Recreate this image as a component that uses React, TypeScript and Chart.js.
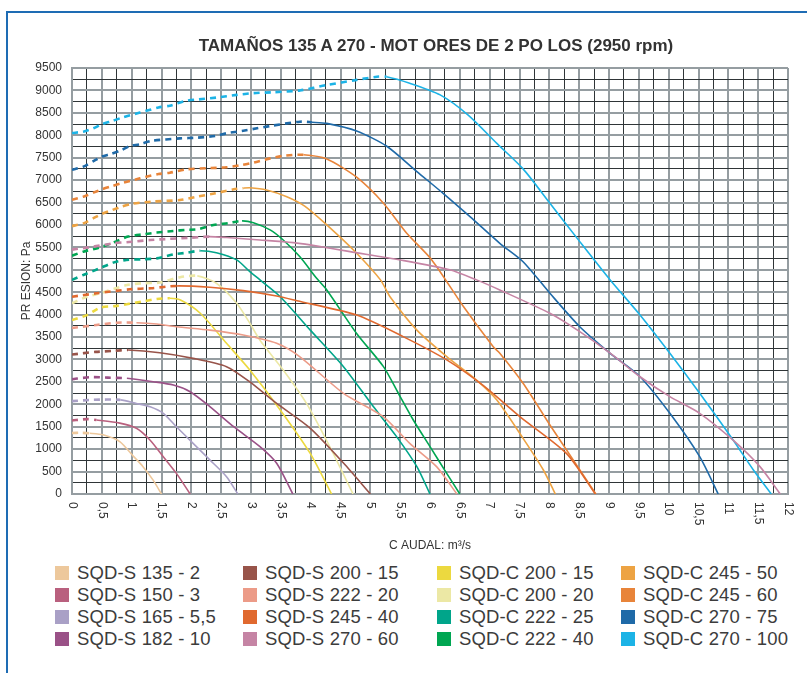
import React, { useEffect, useRef } from 'react';
import { Chart, registerables } from 'chart.js';

Chart.register(...registerables);

const FONT = "'Liberation Sans', Arial, Helvetica, sans-serif";

const TITLE = 'TAMAÑOS 135 A 270 - MOT ORES DE 2 PO LOS (2950 rpm)';
const X_TITLE = 'C AUDAL: m³/s';
const Y_TITLE = 'PR ESION: Pa';

const X_TICKS = [0, 0.5, 1, 1.5, 2, 2.5, 3, 3.5, 4, 4.5, 5, 5.5, 6, 6.5, 7, 7.5, 8, 8.5, 9, 9.5, 10, 10.5, 11, 11.5, 12];
const Y_TICKS = [0, 500, 1000, 1500, 2000, 2500, 3000, 3500, 4000, 4500, 5000, 5500, 6000, 6500, 7000, 7500, 8000, 8500, 9000, 9500];

const SERIES_NAMES = [
  'SQD-S 135 - 2', 'SQD-S 150 - 3', 'SQD-S 165 - 5,5', 'SQD-S 182 - 10',
  'SQD-S 200 - 15', 'SQD-S 222 - 20', 'SQD-S 245 - 40', 'SQD-S 270 - 60',
  'SQD-C 200 - 15', 'SQD-C 200 - 20', 'SQD-C 222 - 25', 'SQD-C 222 - 40',
  'SQD-C 245 - 50', 'SQD-C 245 - 60', 'SQD-C 270 - 75', 'SQD-C 270 - 100',
];

const SERIES_COLORS = [
  '#edc89c', '#b9607e', '#a9a0c6', '#9a5187',
  '#98544a', '#ec9b88', '#e0692f', '#c584a4',
  '#ecd93f', '#ece8a5', '#00a58a', '#00a652',
  '#eda343', '#e8843a', '#1f6aa8', '#1cb3e6',
];

// flow (m³/s) up to which each curve is drawn dashed
const DASH_END = [0.3, 0.41, 0.81, 0.92, 0.94, 1.08, 1.75, 2.3, 1.64, 2.1, 2.15, 2.85, 2.87, 3.88, 4.02, 5.27];

const SQD_S_135_2 = [[0, 1360], [0.15, 1365], [0.3, 1355], [0.52, 1320], [0.8, 1170], [1.03, 840], [1.19, 610], [1.36, 310], [1.5, 0]];
const SQD_S_150_3 = [[0, 1640], [0.25, 1670], [0.41, 1650], [0.8, 1580], [1.08, 1465], [1.31, 1200], [1.53, 830], [1.75, 460], [1.98, 0]];
const SQD_S_165_55 = [[0, 2070], [0.36, 2100], [0.81, 2100], [1.08, 2020], [1.31, 1945], [1.53, 1800], [1.75, 1500], [2.03, 1130], [2.31, 760], [2.59, 385], [2.78, 0]];
const SQD_S_182_10 = [[0, 2560], [0.3, 2605], [0.6, 2595], [0.92, 2580], [1.36, 2505], [1.7, 2430], [1.98, 2280], [2.31, 1950], [2.71, 1500], [3.15, 1055], [3.43, 685], [3.7, 0]];
const SQD_S_200_15 = [[0, 3110], [0.4, 3170], [0.69, 3190], [0.94, 3210], [1.47, 3150], [2.03, 3025], [2.59, 2840], [2.98, 2500], [3.43, 2020], [3.99, 1470], [4.55, 690], [5.0, 0]];
const SQD_S_222_20 = [[0, 3700], [0.41, 3770], [0.75, 3820], [1.08, 3820], [1.42, 3790], [1.75, 3730], [2.31, 3655], [2.87, 3545], [3.43, 3360], [3.82, 3060], [4.55, 2245], [5.22, 1720], [5.66, 1130], [6.11, 610], [6.45, 0]];
const SQD_S_245_40 = [[0, 4400], [0.41, 4475], [0.97, 4565], [1.33, 4590], [1.75, 4640], [2.31, 4610], [2.87, 4535], [3.43, 4415], [3.77, 4310], [4.77, 3990], [5.55, 3510], [6.28, 2990], [6.89, 2420], [7.51, 1720], [8.29, 900], [8.77, 0]];
const SQD_S_270_60 = [[0, 5450], [0.36, 5515], [0.69, 5590], [1.0, 5625], [1.31, 5665], [1.64, 5690], [1.98, 5715], [2.3, 5740], [2.59, 5720], [3.15, 5665], [3.71, 5605], [3.99, 5555], [4.66, 5405], [5.5, 5220], [6.33, 5000], [6.78, 4775], [7.17, 4550], [8.01, 4030], [8.51, 3620], [9.02, 3140], [9.52, 2615], [10.02, 2170], [10.52, 1800], [11.08, 1200], [11.53, 610], [11.87, 0]];
const SQD_C_200_15 = [[0, 3880], [0.25, 3990], [0.47, 4155], [0.75, 4195], [1.17, 4290], [1.42, 4350], [1.64, 4365], [1.81, 4330], [2.15, 4030], [2.59, 3360], [2.98, 2765], [3.49, 1875], [3.99, 910], [4.35, 0]];
const SQD_C_200_20 = [[0, 4255], [0.25, 4400], [0.47, 4475], [0.92, 4660], [1.19, 4700], [1.47, 4715], [1.81, 4835], [2.1, 4865], [2.42, 4700], [2.76, 4255], [2.98, 3810], [3.15, 3430], [3.54, 2765], [3.93, 2020], [4.32, 1055], [4.71, 0]];
const SQD_C_222_25 = [[0, 4775], [0.19, 4885], [0.47, 5035], [0.69, 5160], [0.91, 5220], [1.19, 5235], [1.42, 5255], [1.7, 5345], [1.92, 5380], [2.15, 5425], [2.42, 5380], [2.76, 5220], [2.98, 4960], [3.15, 4775], [3.49, 4400], [3.99, 3660], [4.55, 2840], [5.05, 1950], [5.44, 1280], [5.78, 610], [6.0, 0]];
const SQD_C_222_40 = [[0, 5315], [0.19, 5405], [0.47, 5500], [0.69, 5605], [0.94, 5740], [1.19, 5790], [1.42, 5830], [1.7, 5865], [1.92, 5890], [2.12, 5905], [2.37, 6000], [2.62, 6040], [2.85, 6090], [3.04, 6050], [3.32, 5890], [3.54, 5665], [3.82, 5290], [4.1, 4810], [4.27, 4550], [4.77, 3580], [5.22, 2840], [5.47, 2245], [5.72, 1650], [6.0, 1055], [6.28, 460], [6.5, 0]];
const SQD_C_245_50 = [[0, 5975], [0.19, 6035], [0.36, 6150], [0.5, 6245], [0.68, 6335], [0.83, 6410], [1.0, 6470], [1.33, 6520], [1.81, 6555], [2.09, 6630], [2.4, 6705], [2.71, 6795], [2.87, 6820], [2.98, 6830], [3.26, 6780], [3.6, 6630], [3.9, 6420], [4.27, 6000], [4.77, 5370], [5.17, 4775], [5.33, 4400], [5.78, 3655], [6.28, 3065], [6.78, 2540], [7.12, 2095], [7.56, 1240], [7.9, 535], [8.1, 0]];
const SQD_C_245_60 = [[0, 6560], [0.19, 6630], [0.36, 6720], [0.5, 6795], [0.68, 6870], [0.83, 6930], [1.14, 7040], [1.45, 7135], [1.64, 7165], [1.92, 7240], [2.26, 7265], [2.59, 7285], [2.84, 7335], [3.04, 7390], [3.32, 7485], [3.54, 7540], [3.88, 7565], [4.27, 7470], [4.77, 7065], [5.22, 6485], [5.61, 5815], [6.03, 5220], [6.56, 4180], [7.06, 3285], [7.17, 3140], [7.56, 2470], [8.01, 1540], [8.4, 760], [8.78, 0]];
const SQD_C_270_75 = [[0, 7230], [0.19, 7300], [0.36, 7425], [0.5, 7525], [0.66, 7585], [0.83, 7670], [0.97, 7760], [1.14, 7800], [1.33, 7875], [1.81, 7930], [2.09, 7945], [2.4, 7985], [2.59, 8045], [2.87, 8100], [3.1, 8155], [3.32, 8207], [3.82, 8303], [4.02, 8290], [4.27, 8265], [4.77, 8095], [5.27, 7760], [5.78, 7190], [6.22, 6705], [6.67, 6185], [7.17, 5590], [7.56, 5180], [8.01, 4476], [8.51, 3731], [9.02, 3138], [9.52, 2616], [10.02, 1800], [10.52, 832], [10.83, 0]];
const SQD_C_270_100 = [[0, 8050], [0.19, 8080], [0.36, 8155], [0.5, 8245], [0.68, 8320], [0.83, 8390], [1.14, 8505], [1.45, 8620], [1.64, 8660], [1.92, 8770], [2.12, 8800], [2.42, 8840], [2.76, 8900], [3.04, 8940], [3.37, 8960], [3.82, 9000], [4.27, 9120], [4.77, 9235], [5.11, 9305], [5.27, 9305], [5.66, 9160], [6.17, 8900], [6.64, 8450], [7.12, 7820], [7.56, 7250], [8.01, 6483], [8.51, 5628], [9.02, 4773], [9.52, 3992], [10.02, 3138], [10.52, 2246], [11.08, 1204], [11.42, 535], [11.72, 0]];

const SERIES_DATA = [
  SQD_S_135_2, SQD_S_150_3, SQD_S_165_55, SQD_S_182_10,
  SQD_S_200_15, SQD_S_222_20, SQD_S_245_40, SQD_S_270_60,
  SQD_C_200_15, SQD_C_200_20, SQD_C_222_25, SQD_C_222_40,
  SQD_C_245_50, SQD_C_245_60, SQD_C_270_75, SQD_C_270_100,
];

const GRID_MAJOR = '#959da1';
const GRID_MINOR = '#2f3537';
const TEXT = '#333333';

const fmt = (v: number) => String(v).replace('.', ',');

const xLabelPlugin = {
  id: 'xLabelsClockwise',
  afterDraw(chart: any) {
    const sx = chart.scales.x;
    const ctx = chart.ctx;
    ctx.save();
    ctx.fillStyle = TEXT;
    ctx.font = `12px ${FONT}`;
    ctx.textAlign = 'left';
    ctx.textBaseline = 'middle';
    X_TICKS.forEach((v) => {
      const px = sx.getPixelForValue(v);
      ctx.save();
      ctx.translate(px, chart.chartArea.bottom + 8);
      ctx.rotate(Math.PI / 2);
      ctx.fillText(fmt(v), 0, 0);
      ctx.restore();
    });
    ctx.restore();
  },
};

function ChartCanvas() {
  const ref = useRef<HTMLCanvasElement | null>(null);
  useEffect(() => {
    if (!ref.current) return;
    Chart.defaults.font.family = FONT;
    const datasets = SERIES_DATA.map((pts, i) => {
      const dashEnd = DASH_END[i];
      const isDash = (c: any) => c.p1.parsed.x <= dashEnd + 1e-9;
      return {
        label: SERIES_NAMES[i],
        data: pts.map(([x, y]) => ({ x, y })),
        borderColor: SERIES_COLORS[i],
        backgroundColor: SERIES_COLORS[i],
        borderWidth: 1.6,
        pointRadius: 0,
        tension: 0.25,
        fill: false,
        segment: {
          borderDash: (c: any) => (isDash(c) ? [6, 5] : undefined),
          borderWidth: (c: any) => (isDash(c) ? 2.6 : 1.6),
        },
      };
    });
    const chart = new Chart(ref.current, {
      type: 'line',
      data: { datasets },
      plugins: [xLabelPlugin],
      options: {
        animation: false,
        responsive: true,
        maintainAspectRatio: false,
        parsing: false as any,
        layout: { padding: { top: 68, right: 19, left: 0, bottom: 0 } },
        plugins: {
          legend: { display: false },
          title: { display: false },
          tooltip: { enabled: false },
        },
        scales: {
          x: {
            type: 'linear',
            min: 0,
            max: 12,
            afterFit: (s: any) => { s.height = 66; },
            ticks: { stepSize: 0.25, autoSkip: false, display: false },
            grid: {
              drawTicks: false,
              color: (c: any) => (c.tick && Math.abs(c.tick.value % 0.5) < 1e-9 ? GRID_MAJOR : GRID_MINOR),
              lineWidth: (c: any) => (c.tick && Math.abs(c.tick.value % 0.5) < 1e-9 ? 2 : 1),
            },
            border: { color: GRID_MAJOR, width: 2 },
            title: {
              display: true,
              text: X_TITLE,
              color: TEXT,
              font: { size: 12 },
              padding: { top: 0, bottom: 7 },
            },
          },
          y: {
            type: 'linear',
            min: 0,
            max: 9500,
            afterFit: (s: any) => { s.width = 72; },
            ticks: {
              stepSize: 250,
              autoSkip: false,
              color: TEXT,
              font: { size: 12 },
              padding: 10,
              callback: (v: any) => (Y_TICKS.includes(Number(v)) ? String(v) : ''),
            },
            grid: {
              drawTicks: false,
              color: (c: any) => (c.tick && c.tick.value % 500 === 0 ? GRID_MAJOR : GRID_MINOR),
              lineWidth: (c: any) => (c.tick && c.tick.value % 500 === 0 ? 2 : 1),
            },
            border: { color: GRID_MAJOR, width: 2 },
            title: {
              display: true,
              text: Y_TITLE,
              color: TEXT,
              font: { size: 12 },
              padding: { top: 19, bottom: 0 },
            },
          },
        },
      } as any,
    });
    return () => chart.destroy();
  }, []);
  return (
    <div style={{ position: 'absolute', left: 0, top: 0, width: 807, height: 560 }}>
      <canvas ref={ref} />
    </div>
  );
}

const LEGEND_COL_X = [55, 243, 437, 621];
const LEGEND_ROW_Y = [573, 595, 617, 639];

export default function App() {
  return (
    <div style={{ position: 'absolute', left: 0, top: 0, width: 807, height: 673, overflow: 'hidden', background: '#fff', fontFamily: FONT }}>
      <div
        style={{
          position: 'absolute', left: 6, top: 11, width: 801, height: 662,
          borderLeft: '2.5px solid #1e6cb4', borderTop: '2.5px solid #1e6cb4', boxSizing: 'border-box',
        }}
      />
      <ChartCanvas />
      <div
        style={{
          position: 'absolute', left: 0, top: 35, width: 872, textAlign: 'center',
          fontWeight: 'bold', fontSize: 17, lineHeight: '21px', color: '#333', whiteSpace: 'nowrap',
        }}
      >
        {TITLE}
      </div>
      {SERIES_NAMES.map((name, i) => {
        const col = Math.floor(i / 4);
        const row = i % 4;
        return (
          <div
            key={name}
            style={{
              position: 'absolute', left: LEGEND_COL_X[col], top: LEGEND_ROW_Y[row] - 11, height: 22,
              display: 'flex', alignItems: 'center', whiteSpace: 'nowrap',
            }}
          >
            <span style={{ display: 'inline-block', width: 14, height: 14, background: SERIES_COLORS[i], marginRight: 8 }} />
            <span style={{ fontSize: 18.5, color: '#3c3c3c', letterSpacing: 0.15, lineHeight: '22px' }}>{name}</span>
          </div>
        );
      })}
    </div>
  );
}
